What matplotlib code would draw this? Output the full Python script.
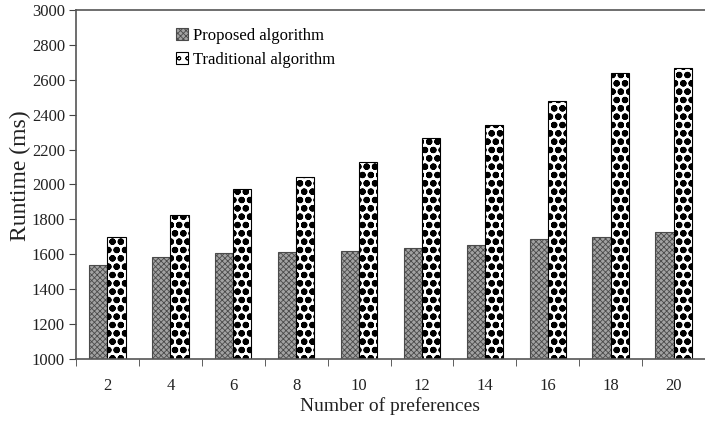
import matplotlib
matplotlib.use("Agg")
import matplotlib.pyplot as plt
import numpy as np

categories = ["2", "4", "6", "8", "10", "12", "14", "16", "18", "20"]
proposed = [1540, 1587, 1606, 1611, 1620, 1635, 1653, 1688, 1702, 1730]
traditional = [1700, 1825, 1975, 2045, 2130, 2265, 2343, 2480, 2640, 2668]
yticks = [1000, 1200, 1400, 1600, 1800, 2000, 2200, 2400, 2600, 2800, 3000]

plt.rcParams['font.family'] = ['Liberation Serif', 'DejaVu Serif']
plt.rcParams['hatch.linewidth'] = 0.6

fig = plt.figure(figsize=(7.05, 4.23), dpi=100)
ax = fig.add_axes([76/705, 1-359/423, 629/705, 349/423])

x = np.arange(len(categories))
w = 0.29
b1 = ax.bar(x - w/2, proposed, width=w, facecolor='#a2a2a2', edgecolor='#4a4a4a',
            hatch='xxxxxx', linewidth=0.8, label='Proposed algorithm')
b2 = ax.bar(x + w/2, traditional, width=w, facecolor='white', edgecolor='black',
            hatch='oo', linewidth=0.8, label='Traditional algorithm')
for p in b2.patches:
    if hasattr(p, 'set_hatch_linewidth'):
        p.set_hatch_linewidth(2.2)

ax.set_xlim(-0.5, len(categories) - 0.5)
ax.set_ylim(1000, 3000)
ax.set_yticks(yticks)
ax.set_yticklabels([str(v) for v in yticks], fontsize=12, color='#222222')
ax.set_xticks(x)
ax.set_xticklabels(categories, fontsize=12, color='#222222')
ax.tick_params(axis='x', which='major', length=0, pad=14)
ax.set_xticks(np.arange(len(categories) + 1) - 0.5, minor=True)
ax.tick_params(axis='x', which='minor', length=5, direction='out', color='#444444')
ax.tick_params(axis='y', length=5, direction='out', color='#444444', pad=3)

for s in ['left', 'bottom', 'top']:
    ax.spines[s].set_color('#555555')
    ax.spines[s].set_linewidth(1.2)
ax.spines['right'].set_visible(False)

ax.set_ylabel('Runtime (ms)', fontsize=17, color='#222222', va='center')
ax.yaxis.set_label_coords(-0.088, 0.525)
ax.set_xlabel('Number of preferences', fontsize=14, labelpad=2, color='#222222')

leg = ax.legend(loc='upper left', bbox_to_anchor=(0.148, 0.967), frameon=False,
                fontsize=12, handlelength=0.75, handleheight=0.75, handletextpad=0.3,
                labelspacing=0.45, borderaxespad=0)

fig.savefig('out.png', dpi=100)
